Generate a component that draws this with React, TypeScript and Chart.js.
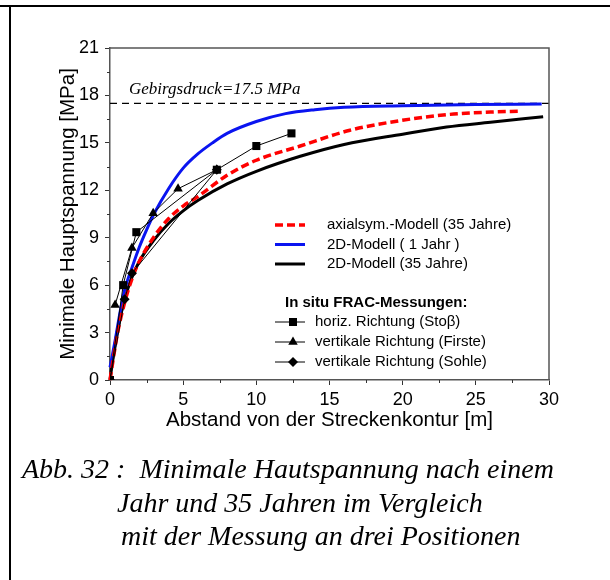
import React, { useEffect, useRef } from 'react';
import { Chart, registerables } from 'chart.js';

Chart.register(...registerables);

// ---- data ----
const axialDist = [0, 0.25, 0.5, 1, 1.5, 2, 3, 4, 5, 6, 8, 10, 13, 16.4, 19.8, 23.2, 26, 28];
const axialStress = [0, 1.5, 2.9, 4.9, 6.4, 7.5, 9.05, 10.2, 11.0, 11.6, 12.95, 13.9, 14.8, 15.8, 16.4, 16.8, 16.95, 17.0];

const oneYearDist = [0, 0.35, 0.75, 1, 1.5, 2, 2.5, 3, 4, 5, 6, 7, 8, 10, 12, 14, 16, 20, 25, 29.5];
const oneYearStress = [0.8, 2.5, 4.6, 5.7, 7.1, 8.4, 9.5, 10.5, 12.1, 13.4, 14.3, 15.0, 15.6, 16.35, 16.85, 17.1, 17.25, 17.35, 17.42, 17.45];

const yr35Dist = [0, 0.25, 0.5, 1, 1.5, 2, 3, 4, 5, 6, 8, 10, 13, 16, 20, 23, 26, 29.6];
const yr35Stress = [0, 1.7, 3.1, 5.1, 6.5, 7.5, 8.85, 9.9, 10.7, 11.35, 12.4, 13.2, 14.15, 14.9, 15.55, 16.0, 16.3, 16.65];

const stossDist = [0, 0.9, 1.8, 7.3, 10, 12.4];
const stossStress = [0, 6.0, 9.35, 13.3, 14.8, 15.6];

const firsteDist = [0.35, 1.5, 2.95, 4.65, 7.3];
const firsteStress = [4.75, 8.35, 10.55, 12.1, 13.3];

const sohleDist = [0, 1.0, 1.5, 7.3];
const sohleStress = [0, 5.1, 6.75, 13.3];

const rockPressure = 17.5;
const rockPressureLabel = 'Gebirgsdruck=17.5 MPa';

const xTicksMinor = [2.5, 7.5, 12.5, 17.5, 22.5, 27.5];
const yTicksMinor = [1.5, 4.5, 7.5, 10.5, 13.5, 16.5, 19.5];

const xTitle = 'Abstand von der Streckenkontur [m]';
const yTitle = 'Minimale Hauptspannung [MPa]';

const modelLabels = ['axialsym.-Modell (35 Jahre)', '2D-Modell ( 1 Jahr )', '2D-Modell (35 Jahre)'];
const measHeader = 'In situ FRAC-Messungen:';
const measLabels = ['horiz. Richtung (Stoβ)', 'vertikale Richtung (Firste)', 'vertikale Richtung (Sohle)'];

const captionLines = [
  'Abb. 32 :  Minimale Hautspannung nach einem',
  'Jahr und 35 Jahren im Vergleich',
  'mit der Messung an drei Positionen',
];

const SANS = '"Liberation Sans", Arial, Helvetica, sans-serif';
const SERIF = '"Liberation Serif", "Times New Roman", serif';

const RED = '#ff0000';
const BLUE = '#0a14f0';
const BLACK = '#000000';

const pts = (xs: number[], ys: number[]) => xs.map((x, i) => ({ x, y: ys[i] }));

function drawMarker(ctx: CanvasRenderingContext2D, kind: string, x: number, y: number) {
  ctx.beginPath();
  if (kind === 'rect') {
    ctx.rect(x - 4, y - 4, 8, 8);
  } else if (kind === 'triangle') {
    const r = 5.5;
    ctx.moveTo(x, y - r);
    ctx.lineTo(x + r * 0.866, y + r * 0.5);
    ctx.lineTo(x - r * 0.866, y + r * 0.5);
    ctx.closePath();
  } else {
    const r = 5;
    ctx.moveTo(x, y - r);
    ctx.lineTo(x + r, y);
    ctx.lineTo(x, y + r);
    ctx.lineTo(x - r, y);
    ctx.closePath();
  }
  ctx.fill();
}

const overlayPlugin = {
  id: 'overlay',
  afterDraw(chart: any) {
    const { ctx, chartArea: a, scales } = chart;
    const xs = scales.x;
    const ys = scales.y;
    ctx.save();
    // top / right frame
    ctx.strokeStyle = '#555';
    ctx.lineWidth = 1.5;
    ctx.setLineDash([]);
    ctx.beginPath();
    ctx.moveTo(a.left, a.top);
    ctx.lineTo(a.right, a.top);
    ctx.lineTo(a.right, a.bottom);
    ctx.stroke();
    // minor ticks
    ctx.strokeStyle = '#333';
    ctx.lineWidth = 1;
    for (const v of yTicksMinor) {
      const p = Math.round(ys.getPixelForValue(v)) + 0.5;
      ctx.beginPath();
      ctx.moveTo(a.left - 3, p);
      ctx.lineTo(a.left, p);
      ctx.stroke();
    }
    for (const v of xTicksMinor) {
      const p = Math.round(xs.getPixelForValue(v)) + 0.5;
      ctx.beginPath();
      ctx.moveTo(p, a.bottom);
      ctx.lineTo(p, a.bottom + 3);
      ctx.stroke();
    }
    // rock pressure label
    ctx.fillStyle = '#000';
    ctx.font = 'italic 17px ' + SERIF;
    ctx.textAlign = 'left';
    ctx.textBaseline = 'alphabetic';
    ctx.fillText(rockPressureLabel, xs.getPixelForValue(1.3), ys.getPixelForValue(18.1));

    // legend
    const lx0 = a.left + 165;
    const lx1 = lx0 + 30;
    ctx.font = '15px ' + SANS;
    ctx.textBaseline = 'middle';
    const modelStyles = [
      { color: RED, dash: [8, 4], width: 3.5 },
      { color: BLUE, dash: [], width: 3 },
      { color: BLACK, dash: [], width: 3 },
    ];
    modelLabels.forEach((lab, i) => {
      const y = a.top + 177 + i * 19.5;
      const st = modelStyles[i];
      ctx.strokeStyle = st.color;
      ctx.lineWidth = st.width;
      ctx.setLineDash(st.dash);
      ctx.beginPath();
      ctx.moveTo(lx0, y);
      ctx.lineTo(lx1, y);
      ctx.stroke();
      ctx.setLineDash([]);
      ctx.fillStyle = '#000';
      ctx.fillText(lab, lx0 + 52, y);
    });
    ctx.font = 'bold 15px ' + SANS;
    ctx.fillText(measHeader, lx0 + 10, a.top + 255);
    ctx.font = '15px ' + SANS;
    const kinds = ['rect', 'triangle', 'rectRot'];
    measLabels.forEach((lab, i) => {
      const y = a.top + 274 + i * 20;
      ctx.strokeStyle = '#000';
      ctx.lineWidth = 1;
      ctx.beginPath();
      ctx.moveTo(lx0, y);
      ctx.lineTo(lx1, y);
      ctx.stroke();
      ctx.fillStyle = '#000';
      drawMarker(ctx, kinds[i], lx0 + 18, y);
      ctx.fillText(lab, lx0 + 40, y);
    });
    ctx.restore();
  },
};

export default function App() {
  const ref = useRef<HTMLCanvasElement>(null);
  useEffect(() => {
    const curve = (data: any, color: string, dash: number[], width: number, label: string) => ({
      label,
      data,
      showLine: true,
      borderColor: color,
      backgroundColor: color,
      borderWidth: width,
      borderDash: dash,
      pointRadius: 0,
      cubicInterpolationMode: 'monotone' as const,
      order: 2,
      clip: 4,
    });
    const meas = (data: any, style: string, radius: number, label: string) => ({
      label,
      data,
      showLine: true,
      borderColor: '#000',
      backgroundColor: '#000',
      borderWidth: 1,
      pointStyle: style,
      pointRadius: radius,
      pointBorderWidth: 0,
      tension: 0,
      order: 0,
      clip: 0,
    });
    const chart = new Chart(ref.current!, {
      type: 'scatter',
      data: {
        datasets: [
          {
            label: 'Gebirgsdruck',
            data: [{ x: 0, y: rockPressure }, { x: 30, y: rockPressure }],
            showLine: true,
            borderColor: '#000',
            borderWidth: 1.3,
            borderDash: [7, 5],
            pointRadius: 0,
            order: 3,
            clip: 10,
          } as any,
          curve(pts(axialDist, axialStress), RED, [8, 4], 3.5, modelLabels[0]),
          curve(pts(oneYearDist, oneYearStress), BLUE, [], 3, modelLabels[1]),
          curve(pts(yr35Dist, yr35Stress), BLACK, [], 3, modelLabels[2]),
          meas(pts(stossDist, stossStress), 'rect', 5.7, measLabels[0]),
          meas(pts(firsteDist, firsteStress), 'triangle', 5.5, measLabels[1]),
          meas(pts(sohleDist, sohleStress), 'rectRot', 5, measLabels[2]),
        ],
      },
      options: {
        responsive: false,
        animation: false,
        layout: { padding: { left: 56, top: 48, right: 61, bottom: 147 } },
        plugins: { legend: { display: false }, tooltip: { enabled: false } },
        scales: {
          x: {
            type: 'linear',
            min: 0,
            max: 30,
            afterFit: (s: any) => { s.height = 53; },
            ticks: { stepSize: 5, font: { size: 18, family: SANS }, color: '#000', padding: 4, maxRotation: 0 },
            grid: { drawOnChartArea: false, drawTicks: true, tickLength: 5, color: '#333' },
            border: { color: '#555', width: 1.5 },
            title: { display: true, text: xTitle, font: { size: 20.5, family: SANS }, color: '#000', padding: 0 },
          },
          y: {
            type: 'linear',
            min: 0,
            max: 21,
            afterFit: (s: any) => { s.width = 54; },
            ticks: { stepSize: 3, font: { size: 18, family: SANS }, color: '#000', padding: 6 },
            grid: { drawOnChartArea: false, drawTicks: true, tickLength: 5, color: '#333' },
            border: { color: '#555', width: 1.5 },
            title: { display: true, text: yTitle, font: { size: 20.5, family: SANS }, color: '#000', padding: 0 },
          },
        },
      } as any,
      plugins: [overlayPlugin],
    });
    return () => chart.destroy();
  }, []);

  const capStyle = (left: number, top: number): React.CSSProperties => ({
    position: 'absolute',
    left,
    top,
    fontFamily: SERIF,
    fontStyle: 'italic',
    fontSize: 28,
    lineHeight: '28px',
    whiteSpace: 'pre',
    color: '#000',
  });

  return (
    <div style={{ position: 'absolute', left: 0, top: 0, width: 610, height: 580, background: '#fff', overflow: 'hidden' }}>
      <canvas ref={ref} width={610} height={580} style={{ position: 'absolute', left: 0, top: 0, width: 610, height: 580 }} />
      <div style={{ position: 'absolute', left: 0, top: 5, width: 610, height: 2, background: '#000' }} />
      <div style={{ position: 'absolute', left: 9, top: 5, width: 2, height: 575, background: '#000' }} />
      <div style={capStyle(22, 455)}>{captionLines[0]}</div>
      <div style={capStyle(117, 489)}>{captionLines[1]}</div>
      <div style={capStyle(121, 522)}>{captionLines[2]}</div>
    </div>
  );
}
